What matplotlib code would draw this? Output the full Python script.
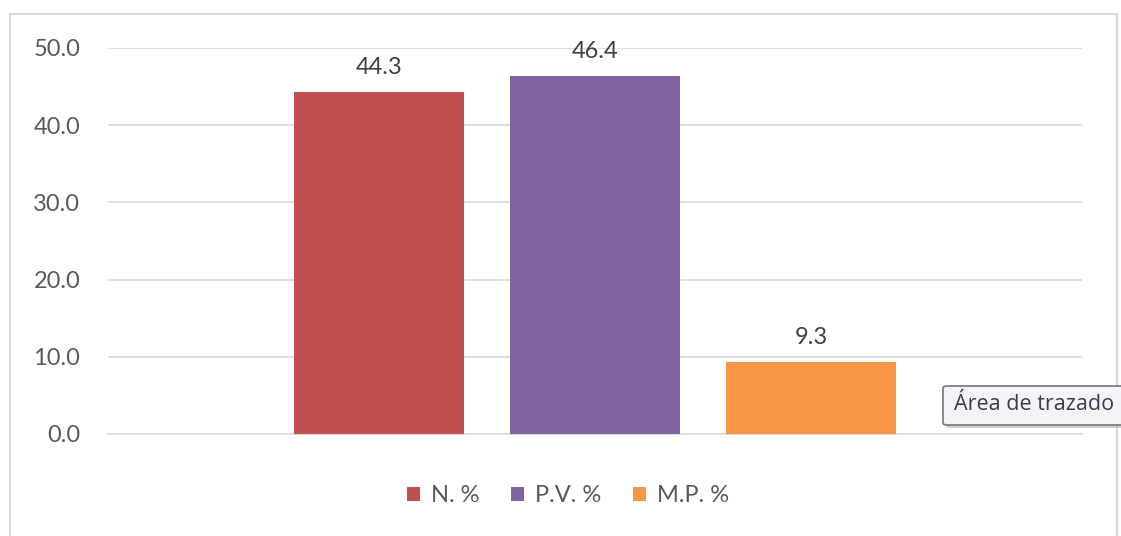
import matplotlib
matplotlib.use("Agg")
import matplotlib.pyplot as plt
from matplotlib.patches import Rectangle, FancyBboxPatch

series = ["N. %", "P.V. %", "M.P. %"]
values = [44.3, 46.4, 9.3]
colors = ["#C0504D", "#8064A2", "#F79646"]
yticks = [0, 10, 20, 30, 40, 50]

W, H = 1121, 536
fig = plt.figure(figsize=(W / 100, H / 100), dpi=100)
plt.rcParams['font.family'] = ['Lato', 'DejaVu Sans']
FS = 17

# outer chart border
fig.patches.append(Rectangle((10 / W, -0.05), (1117 - 10) / W, (H - 14) / H + 0.05,
                             transform=fig.transFigure, fill=False,
                             edgecolor="#d9d9d9", linewidth=1.5))

ax = fig.add_axes([108 / W, (H - 434) / H, (1082 - 108) / W, (434 - 48) / H])
ax.set_xlim(-0.5, 0.5)
ax.set_ylim(0, 50)
ax.set_yticks(yticks)
ax.set_yticklabels([f"{v:.1f}" for v in yticks])
ax.tick_params(axis="y", length=0, pad=20, labelsize=FS, labelcolor="#595959")
ax.set_xticks([])
ax.grid(axis="y", color="#d9d9d9", linewidth=1.2)
ax.set_axisbelow(True)
for s in ["top", "right", "left"]:
    ax.spines[s].set_visible(False)
ax.spines["bottom"].set_color("#d9d9d9")
ax.spines["bottom"].set_linewidth(1.2)

bw = 170 / 974
step = 216 / 974
handles = []
for i, (name, v, c) in enumerate(zip(series, values, colors)):
    x = (i - 1) * step
    b = ax.bar(x, v, width=bw, color=c, label=name, zorder=3)
    handles.append(b)
    ax.annotate(f"{v:.1f}", (x, v), xytext=(0, 10), textcoords="offset points",
                ha="center", va="bottom", fontsize=FS, color="#404040")

leg = fig.legend(handles=handles, labels=series, loc="center",
                 bbox_to_anchor=(568 / W, (H - 496) / H), ncol=3, frameon=False,
                 fontsize=FS, handlelength=0.55, handleheight=0.55,
                 handletextpad=0.45, columnspacing=1.36, labelcolor="#595959")

# tooltip overlay
fig.patches.append(FancyBboxPatch((946 / W, (H - 428) / H), 200 / W, 39 / H,
                                  boxstyle="round,pad=0,rounding_size=0.004",
                                  transform=fig.transFigure, facecolor="#a0a0a0",
                                  edgecolor="none", alpha=0.5))
fig.patches.append(FancyBboxPatch((943 / W, (H - 425) / H), 200 / W, 39 / H,
                                  boxstyle="round,pad=0,rounding_size=0.004",
                                  transform=fig.transFigure, facecolor="#f4f4f8",
                                  edgecolor="#767676", linewidth=1.2))
fig.text(954 / W, (H - 405) / H, "Área de trazado", fontsize=15.5, color="#3c3c50",
         ha="left", va="center", family=["Open Sans", "DejaVu Sans"])

fig.savefig("out.png", dpi=100, facecolor="white")
